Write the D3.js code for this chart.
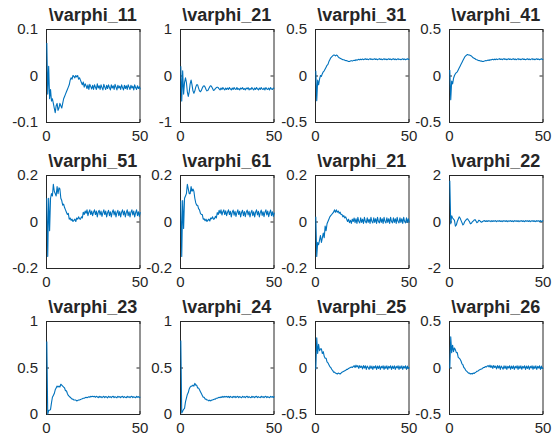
<!DOCTYPE html>
<html>
<head>
<meta charset="utf-8">
<script src="https://cdn.jsdelivr.net/npm/d3@7"></script>
<style>
  body { margin: 0; background: #fff; }
  svg { display: block; }
  text { font-family: "Liberation Sans", Arial, Helvetica, sans-serif; fill: #262626; }
</style>
</head>
<body>
<script>
// time axis shared by every panel: 0, 0.5, ... 50
var steps = d3.range(0, 101).map(function (i) { return i * 0.5; });

var titles = ["\\varphi_11", "\\varphi_21", "\\varphi_31", "\\varphi_41",
              "\\varphi_51", "\\varphi_61", "\\varphi_21", "\\varphi_22",
              "\\varphi_23", "\\varphi_24", "\\varphi_25", "\\varphi_26"];

var yLimits = [[-0.1, 0.1], [-1, 1], [-0.5, 0.5], [-0.5, 0.5],
               [-0.2, 0.2], [-0.2, 0.2], [-0.2, 0.2], [-2, 2],
               [0, 1], [0, 1], [-0.5, 0.5], [-0.5, 0.5]];

var yTicks = [[-0.1, 0, 0.1], [-1, 0, 1], [-0.5, 0, 0.5], [-0.5, 0, 0.5],
              [-0.2, 0, 0.2], [-0.2, 0, 0.2], [-0.2, 0, 0.2], [-2, 0, 2],
              [0, 0.5, 1], [0, 0.5, 1], [-0.5, 0, 0.5], [-0.5, 0, 0.5]];

var xTicks = [0, 50];

var phi11 = [
  0.07, -0.04, 0.02, -0.05, -0.03, -0.055, -0.05, -0.06, -0.07, -0.08,
  -0.065, -0.06, -0.075, -0.07, -0.06, -0.065, -0.07, -0.06, -0.05, -0.045,
  -0.04, -0.035, -0.03, -0.025, -0.02, -0.01, -0.005, -0.008, 0.0, -0.002,
  -0.005, 0.0, -0.003, 0.0, -0.008, -0.005, -0.01, -0.015, -0.02, -0.014,
  -0.025, -0.018, -0.022, -0.028, -0.02, -0.03, -0.019, -0.024, -0.029, -0.021,
  -0.03, -0.02, -0.025, -0.03, -0.018, -0.027, -0.022, -0.03, -0.02, -0.026,
  -0.031, -0.019, -0.025, -0.03, -0.021, -0.028, -0.02, -0.026, -0.031, -0.02,
  -0.027, -0.022, -0.03, -0.019, -0.025, -0.031, -0.021, -0.027, -0.023, -0.03,
  -0.02, -0.026, -0.031, -0.021, -0.028, -0.022, -0.03, -0.02, -0.025, -0.03,
  -0.021, -0.027, -0.023, -0.031, -0.02, -0.026, -0.03, -0.022, -0.028, -0.024,
  -0.03];

var phi21a = [
  0.2, -0.55, 0.1, -0.4, -0.15, -0.05, -0.15, -0.35, -0.45, -0.35,
  -0.18, -0.1, -0.2, -0.33, -0.38, -0.33, -0.25, -0.2, -0.2, -0.27,
  -0.33, -0.35, -0.32, -0.27, -0.23, -0.22, -0.25, -0.3, -0.33, -0.32,
  -0.28, -0.24, -0.22, -0.24, -0.28, -0.32, -0.31, -0.28, -0.26, -0.25,
  -0.26, -0.29, -0.31, -0.27, -0.3, -0.26, -0.29, -0.31, -0.27, -0.3,
  -0.27, -0.3, -0.26, -0.29, -0.31, -0.27, -0.3, -0.26, -0.29, -0.3,
  -0.26, -0.3, -0.28, -0.31, -0.27, -0.29, -0.26, -0.3, -0.28, -0.31,
  -0.27, -0.29, -0.26, -0.31, -0.28, -0.3, -0.26, -0.29, -0.31, -0.27,
  -0.3, -0.26, -0.29, -0.31, -0.27, -0.3, -0.26, -0.29, -0.3, -0.27,
  -0.31, -0.26, -0.29, -0.3, -0.27, -0.31, -0.26, -0.29, -0.3, -0.27,
  -0.28];

var phi31 = [
  0.05, -0.27, -0.05, -0.1, -0.04, 0.0, -0.01, 0.02, 0.04, 0.05,
  0.07, 0.09, 0.11, 0.12, 0.15, 0.17, 0.19, 0.2, 0.21, 0.22,
  0.22, 0.21, 0.22, 0.215, 0.2, 0.19, 0.185, 0.18, 0.175, 0.17,
  0.17, 0.165, 0.16, 0.16, 0.155, 0.15, 0.15, 0.155, 0.16, 0.155,
  0.16, 0.165, 0.16, 0.17, 0.165, 0.17, 0.175, 0.168, 0.176, 0.17,
  0.178, 0.17, 0.175, 0.18, 0.172, 0.178, 0.17, 0.176, 0.181, 0.172,
  0.178, 0.171, 0.176, 0.18, 0.172, 0.177, 0.17, 0.176, 0.181, 0.172,
  0.177, 0.17, 0.175, 0.18, 0.171, 0.177, 0.17, 0.175, 0.18, 0.172,
  0.177, 0.17, 0.176, 0.18, 0.171, 0.177, 0.17, 0.175, 0.18, 0.171,
  0.176, 0.17, 0.175, 0.18, 0.171, 0.177, 0.17, 0.175, 0.18, 0.172,
  0.176];

var phi41 = [
  0.06, -0.26, -0.06, -0.09, -0.03, 0.0, 0.02, 0.03, 0.04, 0.06,
  0.08, 0.1, 0.12, 0.14, 0.16, 0.18, 0.2, 0.21, 0.22, 0.225,
  0.22, 0.22, 0.215, 0.21, 0.2, 0.19, 0.185, 0.18, 0.172, 0.17,
  0.165, 0.16, 0.16, 0.155, 0.155, 0.15, 0.152, 0.155, 0.16, 0.158,
  0.162, 0.166, 0.161, 0.17, 0.166, 0.172, 0.175, 0.168, 0.177, 0.17,
  0.178, 0.171, 0.176, 0.181, 0.172, 0.178, 0.17, 0.177, 0.181, 0.172,
  0.177, 0.17, 0.176, 0.18, 0.172, 0.178, 0.171, 0.176, 0.18, 0.171,
  0.177, 0.17, 0.176, 0.181, 0.171, 0.177, 0.17, 0.176, 0.18, 0.172,
  0.176, 0.17, 0.175, 0.18, 0.171, 0.177, 0.17, 0.176, 0.181, 0.171,
  0.177, 0.17, 0.176, 0.18, 0.172, 0.177, 0.17, 0.175, 0.18, 0.171,
  0.175];

var phi51 = [
  0.1, -0.15, 0.1, -0.04, 0.1, 0.12, 0.11, 0.16, 0.13, 0.12,
  0.11, 0.15, 0.12, 0.145, 0.14, 0.1, 0.09, 0.07, 0.075, 0.06,
  0.05, 0.04, 0.03, 0.035, 0.01, 0.015, 0.005, 0.01, 0.0, 0.005,
  0.01, 0.0, 0.015, 0.01, 0.02, 0.012, 0.01, 0.02, 0.015, 0.04,
  0.03, 0.045, 0.035, 0.05, 0.025, 0.04, 0.05, 0.03, 0.045, 0.025,
  0.04, 0.05, 0.03, 0.045, 0.02, 0.04, 0.048, 0.028, 0.045, 0.022,
  0.038, 0.05, 0.03, 0.045, 0.02, 0.038, 0.048, 0.025, 0.042, 0.02,
  0.04, 0.05, 0.028, 0.045, 0.02, 0.038, 0.048, 0.025, 0.043, 0.02,
  0.04, 0.05, 0.028, 0.045, 0.02, 0.038, 0.05, 0.025, 0.042, 0.02,
  0.04, 0.05, 0.028, 0.045, 0.02, 0.038, 0.05, 0.025, 0.042, 0.022,
  0.04];

var phi61 = [
  0.09, -0.15, 0.09, -0.03, 0.1, 0.11, 0.12, 0.16, 0.14, 0.12,
  0.12, 0.15, 0.13, 0.14, 0.13, 0.1, 0.08, 0.07, 0.07, 0.055,
  0.05, 0.035, 0.03, 0.03, 0.01, 0.012, 0.003, 0.01, 0.0, 0.006,
  0.01, 0.002, 0.015, 0.012, 0.02, 0.01, 0.012, 0.022, 0.015, 0.038,
  0.03, 0.048, 0.035, 0.05, 0.028, 0.042, 0.05, 0.03, 0.046, 0.025,
  0.04, 0.05, 0.03, 0.044, 0.02, 0.04, 0.049, 0.027, 0.044, 0.022,
  0.038, 0.05, 0.03, 0.044, 0.02, 0.039, 0.048, 0.025, 0.043, 0.021,
  0.04, 0.049, 0.028, 0.044, 0.02, 0.038, 0.048, 0.025, 0.042, 0.02,
  0.04, 0.05, 0.028, 0.044, 0.02, 0.038, 0.049, 0.026, 0.042, 0.021,
  0.04, 0.05, 0.028, 0.045, 0.021, 0.038, 0.049, 0.025, 0.042, 0.022,
  0.038];

var phi21b = [
  0.02, -0.15, -0.09, -0.1, -0.08, -0.06, -0.09, -0.07, -0.05, -0.07,
  -0.02, -0.04, -0.01, 0.0, 0.01, 0.02, 0.025, 0.03, 0.035, 0.04,
  0.05, 0.04, 0.05, 0.04, 0.045, 0.035, 0.04, 0.03, 0.03, 0.02,
  0.025, 0.015, 0.02, 0.01, 0.0, 0.01, -0.005, 0.005, -0.008, 0.01,
  0.0, 0.015, -0.005, 0.012, -0.008, 0.018, 0.0, -0.006, 0.016, -0.004,
  0.01, -0.008, 0.018, 0.0, -0.006, 0.016, -0.004, 0.01, -0.008, 0.018,
  0.0, -0.006, 0.016, -0.004, 0.012, -0.008, 0.018, 0.0, -0.006, 0.017,
  -0.004, 0.012, -0.008, 0.018, 0.0, -0.006, 0.016, -0.004, 0.012, -0.008,
  0.018, 0.0, -0.006, 0.016, -0.004, 0.012, -0.008, 0.018, 0.0, -0.006,
  0.016, -0.004, 0.012, -0.008, 0.018, 0.0, -0.006, 0.016, -0.004, 0.012,
  -0.005];

var phi22 = [
  1.75, -0.1, 0.25, 0.15, 0.1, 0.05, -0.2, -0.15, 0.0, 0.1,
  0.2, 0.15, 0.05, -0.05, -0.15, -0.1, 0.0, 0.05, 0.1, 0.12,
  0.05, 0.0, -0.1, -0.08, -0.02, 0.02, 0.06, 0.08, 0.02, -0.05,
  -0.02, 0.05, 0.04, -0.01, -0.03, 0.0, 0.02, 0.04, 0.0, 0.03,
  0.0, 0.04, 0.01, 0.03, -0.01, 0.04, 0.0, 0.03, 0.01, 0.04,
  -0.01, 0.03, 0.01, 0.04, 0.0, 0.03, -0.01, 0.04, 0.01, 0.03,
  0.0, 0.04, -0.01, 0.03, 0.01, 0.04, 0.0, 0.03, -0.01, 0.04,
  0.01, 0.03, 0.0, 0.04, -0.01, 0.03, 0.01, 0.04, 0.0, 0.03,
  -0.01, 0.04, 0.01, 0.03, 0.0, 0.04, -0.01, 0.03, 0.01, 0.04,
  0.0, 0.03, -0.01, 0.04, 0.01, 0.03, 0.0, 0.04, -0.01, 0.03,
  0.02];

var phi23 = [
  0.78, 0.0, 0.04, 0.04, 0.05, 0.12, 0.18, 0.2, 0.22, 0.26,
  0.28, 0.3, 0.29, 0.3, 0.29, 0.32, 0.31, 0.3, 0.29, 0.28,
  0.25, 0.25, 0.22, 0.2, 0.19, 0.18, 0.17, 0.16, 0.16, 0.15,
  0.15, 0.15, 0.14, 0.145, 0.15, 0.15, 0.155, 0.16, 0.165, 0.17,
  0.17, 0.175, 0.18, 0.175, 0.18, 0.185, 0.18, 0.19, 0.185, 0.19,
  0.185, 0.19, 0.18, 0.19, 0.185, 0.175, 0.19, 0.18, 0.188, 0.175,
  0.185, 0.19, 0.176, 0.188, 0.182, 0.174, 0.19, 0.18, 0.186, 0.175,
  0.187, 0.19, 0.176, 0.186, 0.18, 0.174, 0.19, 0.181, 0.187, 0.175,
  0.186, 0.19, 0.176, 0.187, 0.18, 0.175, 0.19, 0.18, 0.186, 0.175,
  0.187, 0.19, 0.176, 0.186, 0.181, 0.175, 0.19, 0.18, 0.187, 0.176,
  0.185];

var phi24 = [
  0.79, 0.01, 0.03, 0.05, 0.06, 0.13, 0.17, 0.21, 0.23, 0.27,
  0.29, 0.3, 0.3, 0.31, 0.3, 0.33, 0.31, 0.31, 0.28, 0.28,
  0.26, 0.24, 0.22, 0.2, 0.18, 0.18, 0.16, 0.16, 0.15, 0.15,
  0.14, 0.15, 0.14, 0.15, 0.15, 0.155, 0.16, 0.16, 0.17, 0.17,
  0.175, 0.18, 0.175, 0.185, 0.178, 0.19, 0.18, 0.19, 0.183, 0.19,
  0.18, 0.19, 0.176, 0.19, 0.182, 0.176, 0.19, 0.18, 0.189, 0.176,
  0.186, 0.19, 0.175, 0.188, 0.181, 0.175, 0.19, 0.181, 0.187, 0.176,
  0.187, 0.191, 0.176, 0.187, 0.18, 0.175, 0.19, 0.18, 0.187, 0.176,
  0.187, 0.19, 0.176, 0.187, 0.181, 0.176, 0.191, 0.18, 0.187, 0.176,
  0.187, 0.19, 0.176, 0.187, 0.18, 0.176, 0.19, 0.181, 0.188, 0.177,
  0.19];

var phi25 = [
  -0.02, 0.32, 0.15, 0.25, 0.18, 0.2, 0.2, 0.15, 0.17, 0.12,
  0.1, 0.1, 0.06, 0.05, 0.03, 0.01, 0.0, -0.02, -0.03, -0.05,
  -0.05, -0.06, -0.065, -0.07, -0.06, -0.065, -0.07, -0.06, -0.05, -0.045,
  -0.04, -0.035, -0.03, -0.02, -0.02, -0.01, -0.005, 0.0, 0.005, 0.0,
  0.01, 0.02, 0.0, 0.025, 0.005, 0.02, -0.01, 0.02, 0.0, 0.015,
  -0.015, 0.02, -0.005, 0.018, -0.02, 0.015, 0.0, -0.02, 0.018, -0.01,
  0.015, -0.02, 0.012, -0.005, 0.018, -0.02, 0.015, -0.01, 0.018, -0.02,
  0.012, -0.005, 0.018, -0.02, 0.015, -0.01, 0.018, -0.02, 0.012, -0.005,
  0.018, -0.02, 0.015, -0.01, 0.018, -0.02, 0.012, -0.005, 0.018, -0.02,
  0.015, -0.01, 0.018, -0.02, 0.012, -0.005, 0.018, -0.02, 0.015, -0.01,
  0.0];

var phi26 = [
  -0.01, 0.33, 0.16, 0.24, 0.17, 0.21, 0.19, 0.16, 0.16, 0.11,
  0.1, 0.09, 0.07, 0.04, 0.03, 0.0, -0.01, -0.03, -0.04, -0.05,
  -0.06, -0.06, -0.07, -0.065, -0.07, -0.06, -0.065, -0.055, -0.05, -0.04,
  -0.04, -0.03, -0.025, -0.02, -0.015, -0.01, 0.0, 0.0, 0.01, 0.005,
  0.015, 0.02, 0.005, 0.025, 0.0, 0.02, -0.01, 0.022, 0.0, 0.015,
  -0.015, 0.02, -0.005, 0.018, -0.02, 0.016, 0.0, -0.018, 0.018, -0.01,
  0.016, -0.02, 0.012, -0.005, 0.018, -0.019, 0.015, -0.01, 0.018, -0.02,
  0.013, -0.005, 0.018, -0.02, 0.016, -0.01, 0.018, -0.019, 0.012, -0.005,
  0.018, -0.02, 0.015, -0.01, 0.018, -0.02, 0.013, -0.005, 0.018, -0.019,
  0.015, -0.01, 0.018, -0.02, 0.012, -0.005, 0.018, -0.02, 0.015, -0.01,
  -0.005];

var seriesList = [phi11, phi21a, phi31, phi41, phi51, phi61,
                  phi21b, phi22, phi23, phi24, phi25, phi26];

var W = 557, H = 445;
var colLeft = [46, 180, 315, 449];
var rowTop = [29, 175, 321];
var pw = 93.5, ph = 93;
var axisColor = "#262626";
var lineColor = "#0072bd";

var svg = d3.select("body").append("svg")
  .attr("width", W)
  .attr("height", H);

function fmt(v) {
  return String(v);   // plain hyphen minus like MATLAB
}

seriesList.forEach(function (vals, i) {
  var col = i % 4, row = Math.floor(i / 4);
  var g = svg.append("g")
    .attr("transform", "translate(" + colLeft[col] + "," + rowTop[row] + ")");

  var x = d3.scaleLinear().domain([0, 50]).range([0, pw]);
  var y = d3.scaleLinear().domain(yLimits[i]).range([ph, 0]);

  // box + inward ticks
  var left = g.append("g")
    .call(d3.axisLeft(y).tickValues(yTicks[i]).tickFormat(fmt)
      .tickSizeInner(-3).tickSizeOuter(0).tickPadding(8));
  var right = g.append("g").attr("transform", "translate(" + pw + ",0)")
    .call(d3.axisRight(y).tickValues(yTicks[i]).tickFormat("")
      .tickSizeInner(-3).tickSizeOuter(0));
  var bottom = g.append("g").attr("transform", "translate(0," + ph + ")")
    .call(d3.axisBottom(x).tickValues(xTicks).tickFormat(fmt)
      .tickSizeInner(-3).tickSizeOuter(0).tickPadding(8));
  var top = g.append("g")
    .call(d3.axisTop(x).tickValues(xTicks).tickFormat("")
      .tickSizeInner(-3).tickSizeOuter(0));

  [left, right, bottom, top].forEach(function (a) {
    a.selectAll("path, line").attr("stroke", axisColor).attr("stroke-width", 1);
    a.selectAll("text")
      .attr("font-family", "'Liberation Sans', Arial, sans-serif")
      .attr("font-size", 15)
      .attr("fill", axisColor);
  });

  var line = d3.line()
    .x(function (d, j) { return x(steps[j]); })
    .y(function (d) { return y(d); });

  // data drawn over the box so the t=0 spikes stay visible
  g.append("path")
    .datum(vals)
    .attr("fill", "none")
    .attr("stroke", lineColor)
    .attr("stroke-width", 1.1)
    .attr("stroke-linejoin", "round")
    .attr("transform", "translate(0.8,0)")
    .attr("d", line);

  g.append("text")
    .attr("x", pw / 2)
    .attr("y", -8)
    .attr("text-anchor", "middle")
    .attr("font-size", 18)
    .attr("font-weight", "bold")
    .attr("fill", "#000")
    .text(titles[i]);
});
</script>
</body>
</html>
